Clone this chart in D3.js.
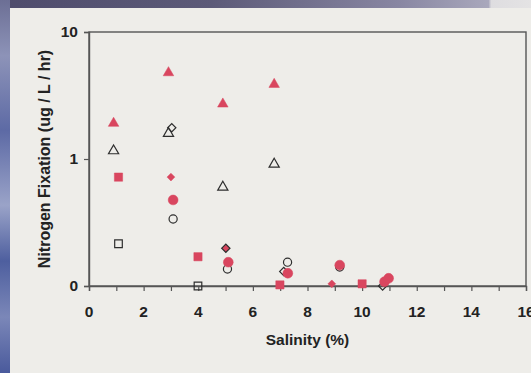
<!DOCTYPE html>
<html>
<head>
<meta charset="utf-8">
<script src="https://cdn.jsdelivr.net/npm/d3@7"></script>
<style>
  html, body { margin: 0; padding: 0; background: #eeede9; }
  svg { display: block; }
  text { font-family: "Liberation Sans", Arial, sans-serif; font-weight: bold; fill: #222; }
</style>
</head>
<body>
<svg id="chart" width="531" height="373"></svg>
<script>
// Salinity (%) and nitrogen fixation (ug / L / hr) per sample group
const triFilledX = [0.90, 2.91, 4.90, 6.78];
const triFilledY = [1.91, 4.78, 2.71, 3.87];
const triOpenX = [0.90, 2.91, 4.90, 6.78];
const triOpenY = [1.16, 1.59, 0.60, 0.91];
const diamondFilledX = [3.00, 5.01, 8.89];
const diamondFilledY = [0.72, 0.198, 0.104];
const diamondOpenX = [3.03, 5.01, 7.13, 10.75];
const diamondOpenY = [1.76, 0.198, 0.130, 0.100];
const squareFilledX = [1.08, 3.99, 6.99, 10.00];
const squareFilledY = [0.72, 0.170, 0.102, 0.104];
const squareOpenX = [1.08, 3.99];
const squareOpenY = [0.215, 0.100];
const circleFilledX = [3.08, 5.10, 7.28, 9.18, 10.82, 10.97];
const circleFilledY = [0.476, 0.154, 0.126, 0.146, 0.108, 0.115];
const circleOpenX = [3.08, 5.07, 7.27, 9.18];
const circleOpenY = [0.337, 0.136, 0.154, 0.141];

const xTicks = [0, 2, 4, 6, 8, 10, 12, 14, 16];
const xMinorTicks = d3.range(0, 17, 1);
const yTicks = [0.1, 1, 10];
const yTickLabels = ["0", "1", "10"];

const RED = "#d9465f";
const INK = "#2e2e2e";

const svg = d3.select("#chart");
const W = 531, H = 373;

// scanned-page backdrop: blue photo strip at left and dark band along the top
const defs = svg.append("defs");
const gLeft = defs.append("linearGradient").attr("id", "leftStrip").attr("x1", 0).attr("y1", 0).attr("x2", 0).attr("y2", 1);
[["0", "#6c6f95"], ["0.15", "#8d93b8"], ["0.35", "#5d6aa5"], ["0.55", "#9aa3c8"], ["0.7", "#4e5f9f"], ["0.85", "#7b87b8"], ["1", "#4a5a9c"]]
  .forEach(([o, c]) => gLeft.append("stop").attr("offset", o).attr("stop-color", c));
const gTop = defs.append("linearGradient").attr("id", "topStrip").attr("x1", 0).attr("y1", 0).attr("x2", 1).attr("y2", 0);
[["0", "#4e4c6c"], ["0.4", "#5c5a78"], ["0.75", "#8886a2"], ["0.92", "#a9a8bc"], ["0.925", "#dedde0"], ["1", "#e4e3e4"]]
  .forEach(([o, c]) => gTop.append("stop").attr("offset", o).attr("stop-color", c));

svg.append("rect").attr("width", W).attr("height", H).attr("fill", "#eeede9");
svg.append("rect").attr("x", 0).attr("y", 0).attr("width", W).attr("height", 8).attr("fill", "url(#topStrip)");
svg.append("rect").attr("x", 0).attr("y", 0).attr("width", 10).attr("height", H).attr("fill", "url(#leftStrip)");

const plot = { left: 89, right: 526, top: 32, bottom: 286 };

const x = d3.scaleLinear().domain([0, 16]).range([plot.left, plot.right]);
const y = d3.scaleLog().domain([0.1, 10]).range([plot.bottom, plot.top]);

// frame
svg.append("rect")
  .attr("x", plot.left).attr("y", plot.top)
  .attr("width", plot.right - plot.left).attr("height", plot.bottom - plot.top)
  .attr("fill", "none").attr("stroke", "#555").attr("stroke-width", 1.4);

// x axis: ticks at every unit, labels on even values
const xAxis = svg.append("g")
  .attr("transform", `translate(0,${plot.bottom})`)
  .call(d3.axisBottom(x).tickValues(xMinorTicks).tickSize(5).tickFormat(""));
xAxis.select(".domain").attr("stroke", "#555").attr("stroke-width", 1.4);
xAxis.selectAll(".tick line").attr("stroke", "#555").attr("stroke-width", 1.2);

svg.append("g").selectAll("text").data(xTicks).join("text")
  .attr("x", d => x(d)).attr("y", 317)
  .attr("text-anchor", "middle").attr("font-size", 15.5)
  .text(d => d);

// y axis (log)
const yAxis = svg.append("g")
  .attr("transform", `translate(${plot.left},0)`)
  .call(d3.axisLeft(y).tickValues(yTicks).tickSize(5).tickPadding(6)
    .tickFormat((d, i) => yTickLabels[i]));
yAxis.select(".domain").attr("stroke", "#555").attr("stroke-width", 1.4);
yAxis.selectAll(".tick line").attr("stroke", "#555").attr("stroke-width", 1.2);
yAxis.selectAll(".tick text")
  .attr("font-size", 15.5).attr("font-family", "Liberation Sans, Arial, sans-serif")
  .attr("font-weight", "bold").attr("fill", "#222");

// axis titles
svg.append("text")
  .attr("x", (plot.left + plot.right) / 2).attr("y", 345)
  .attr("text-anchor", "middle").attr("font-size", 15.5)
  .text("Salinity (%)");
svg.append("text")
  .attr("transform", `translate(50,${(plot.top + plot.bottom) / 2}) rotate(-90)`)
  .attr("text-anchor", "middle").attr("font-size", 16)
  .text("Nitrogen Fixation (ug / L / hr)");

// markers; diamonds are squares turned 45 degrees
const zip = (xs, ys) => xs.map((v, i) => ({ x: v, y: ys[i] }));
function drawSeries(xs, ys, type, size, filled, rot = 0) {
  const sym = d3.symbol().type(type).size(size);
  svg.append("g").selectAll("path").data(zip(xs, ys)).join("path")
    .attr("transform", d => `translate(${x(d.x)},${y(d.y)}) rotate(${rot})`)
    .attr("d", sym)
    .attr("fill", filled ? RED : "none")
    .attr("stroke", filled ? RED : INK)
    .attr("stroke-width", filled ? 0.5 : 1.2);
}

drawSeries(diamondFilledX, diamondFilledY, d3.symbolSquare, 30, true, 45);
drawSeries(diamondOpenX, diamondOpenY, d3.symbolSquare, 34, false, 45);
drawSeries(circleOpenX, circleOpenY, d3.symbolCircle, 52, false);
drawSeries(circleFilledX, circleFilledY, d3.symbolCircle, 76, true);
drawSeries(squareOpenX, squareOpenY, d3.symbolSquare, 58, false);
drawSeries(squareFilledX, squareFilledY, d3.symbolSquare, 68, true);
drawSeries(triOpenX, triOpenY, d3.symbolTriangle, 45, false);
drawSeries(triFilledX, triFilledY, d3.symbolTriangle, 48, true);
</script>
</body>
</html>
